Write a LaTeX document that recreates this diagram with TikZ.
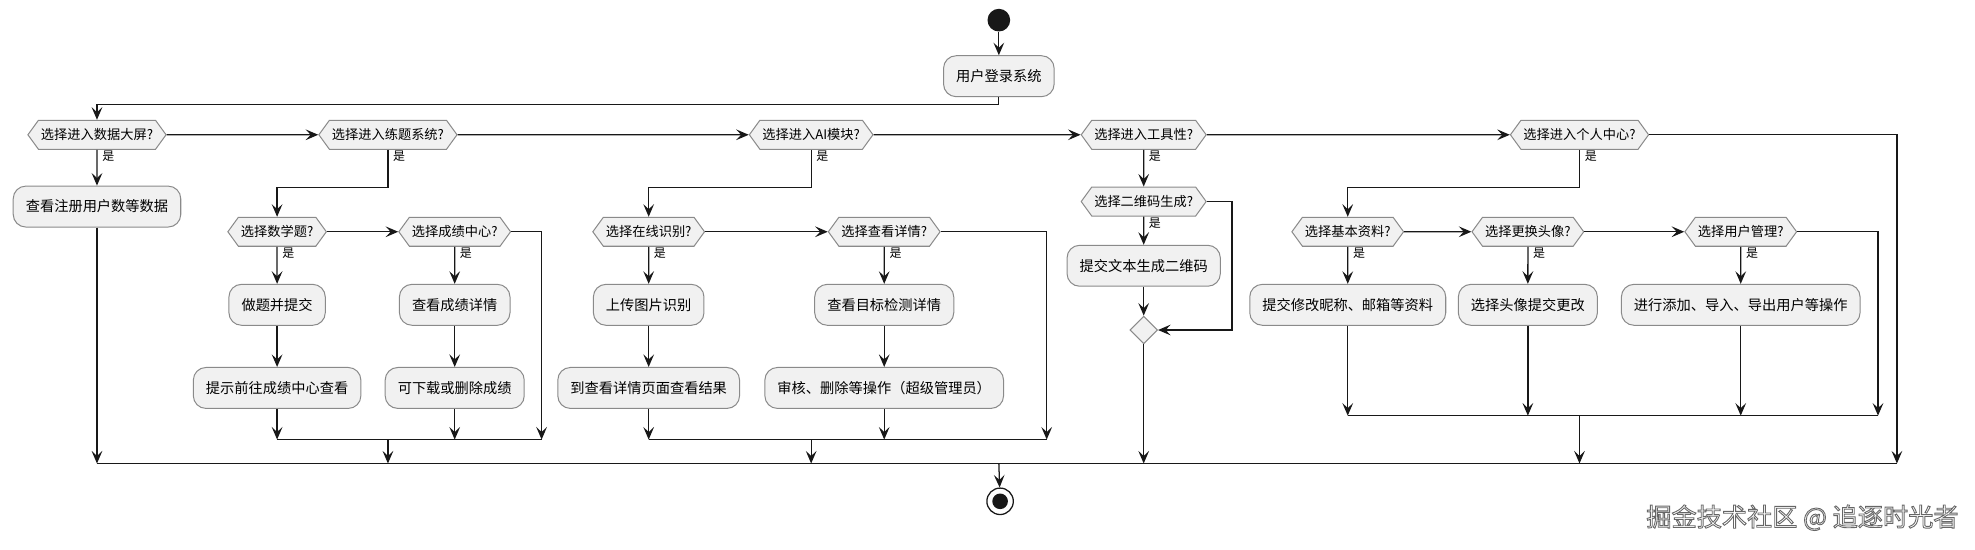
\documentclass[tikz,border=0pt]{standalone}
\usepackage{fontspec}
\setmainfont{Noto Sans CJK SC}
\usetikzlibrary{shapes.symbols,shapes.geometric,arrows.meta}
\definecolor{boxfill}{HTML}{F1F1F1}
\definecolor{boxline}{HTML}{8A8A8A}
\definecolor{linecol}{HTML}{181818}
\tikzset{
  act/.style={shape=rectangle, rounded corners=10pt, fill=boxfill, draw=boxline, line width=0.8pt,
    minimum height=32.5pt, inner xsep=10pt, inner ysep=0pt, font=\fontsize{11.3}{13}\selectfont},
  dec/.style={shape=signal, signal to=east and west, signal pointer angle=108, fill=boxfill, draw=boxline,
    line width=0.8pt, minimum height=23pt, inner xsep=2pt, inner ysep=0pt, font=\fontsize{10.5}{12}\selectfont},
  yes/.style={anchor=west, inner sep=0pt, font=\fontsize{9.5}{11}\selectfont},
  flow/.style={draw=linecol, line width=1pt, -{Stealth[length=10pt,width=8.5pt,inset=4pt]}},
  plain/.style={draw=linecol, line width=1pt},
}
\begin{document}
\begin{tikzpicture}[x=1pt,y=-1pt]
\useasboundingbox (0,0) rectangle (1568,435.9);
% start / end
\node[circle, fill=linecol, minimum size=18pt, inner sep=0pt] (start) at (793,16) {};
\node[act] (login) at (793,60.5) {用户登录系统};
% top row of decisions
\node[dec] (d1) at (77,107) {选择进入数据大屏?};
\node[dec] (d2) at (308,107) {选择进入练题系统?};
\node[dec] (d3) at (644,107) {选择进入AI模块?};
\node[dec] (d4) at (908,107) {选择进入工具性?};
\node[dec] (d5) at (1254,107) {选择进入个人中心?};
% branch 1
\node[act] (a1) at (77,164) {查看注册用户数等数据};
% branch 2
\node[dec] (d2a) at (220,184) {选择数学题?};
\node[dec] (d2b) at (361,184) {选择成绩中心?};
\node[act] (b21) at (220,242) {做题并提交};
\node[act] (b22) at (220,308) {提示前往成绩中心查看};
\node[act] (b23) at (361,242) {查看成绩详情};
\node[act] (b24) at (361,308) {可下载或删除成绩};
% branch 3
\node[dec] (d3a) at (515,184) {选择在线识别?};
\node[dec] (d3b) at (702,184) {选择查看详情?};
\node[act] (b31) at (515,242) {上传图片识别};
\node[act] (b32) at (515,308) {到查看详情页面查看结果};
\node[act] (b33) at (702,242) {查看目标检测详情};
\node[act] (b34) at (702,308) {审核、删除等操作（超级管理员）};
% branch 4
\node[dec] (d4a) at (908,160) {选择二维码生成?};
\node[act] (b41) at (908,211) {提交文本生成二维码};
\node[shape=diamond, fill=boxfill, draw=boxline, line width=0.8pt, minimum width=22pt, minimum height=22pt, inner sep=0pt] (m4) at (908,262) {};
% branch 5
\node[dec] (d5a) at (1070,184) {选择基本资料?};
\node[dec] (d5b) at (1213,184) {选择更换头像?};
\node[dec] (d5c) at (1382,184) {选择用户管理?};
\node[act] (b51) at (1070,242) {提交修改昵称、邮箱等资料};
\node[act] (b52) at (1213,242) {选择头像提交更改};
\node[act] (b53) at (1382,242) {进行添加、导入、导出用户等操作};
% end
\node[circle, draw=linecol, line width=1pt, fill=white, minimum size=21pt, inner sep=0pt] (end) at (794,398) {};
\fill[linecol] (end.center) circle (6.2pt);
% merge coordinates
\coordinate (m2l) at (220,349); \coordinate (m2r) at (430,349); \coordinate (m2d) at (308,349);
\coordinate (m3l) at (515,349); \coordinate (m3r) at (831,349); \coordinate (m3d) at (644,349);
\coordinate (m5l) at (1070,330); \coordinate (m5r) at (1491,330); \coordinate (m5d) at (1254,330);
\coordinate (ol) at (77,368); \coordinate (or) at (1506,368); \coordinate (od) at (793,368);
% "yes" labels
\node[yes] (y1) at (81,124) {是};
\node[yes] (y2) at (312,124) {是};
\node[yes] (y3) at (648,124) {是};
\node[yes] (y4) at (912,124) {是};
\node[yes] (y5) at (1258,124) {是};
\node[yes] (y2a) at (224,201) {是};
\node[yes] (y2b) at (365,201) {是};
\node[yes] (y3a) at (519,201) {是};
\node[yes] (y3b) at (706,201) {是};
\node[yes] (y4a) at (912,177) {是};
\node[yes] (y5a) at (1074,201) {是};
\node[yes] (y5b) at (1217,201) {是};
\node[yes] (y5c) at (1386,201) {是};
% connectors: top
\draw[flow] (start) -- (login);
\draw[flow] (login.south) -- ++(0,6) -| (d1.north);
\draw[flow] (d1) -- (d2);
\draw[flow] (d2) -- (d3);
\draw[flow] (d3) -- (d4);
\draw[flow] (d4) -- (d5);
\draw[flow] (d5.east) -| (or);
% branch 1
\draw[flow] (d1) -- (a1);
\draw[flow] (a1) -- (ol);
% branch 2
\draw[flow] (d2.south) -- ++(0,30) -| (d2a.north);
\draw[flow] (d2a) -- (d2b);
\draw[flow] (d2b.east) -| (m2r);
\draw[flow] (d2a) -- (b21);
\draw[flow] (b21) -- (b22);
\draw[flow] (b22) -- (m2l);
\draw[flow] (d2b) -- (b23);
\draw[flow] (b23) -- (b24);
\draw[flow] (b24) -- (b24 |- m2l);
\draw[plain] (m2l) -- (m2r);
\draw[flow] (m2d) -- (m2d |- ol);
% branch 3
\draw[flow] (d3.south) -- ++(0,30) -| (d3a.north);
\draw[flow] (d3a) -- (d3b);
\draw[flow] (d3b.east) -| (m3r);
\draw[flow] (d3a) -- (b31);
\draw[flow] (b31) -- (b32);
\draw[flow] (b32) -- (m3l);
\draw[flow] (d3b) -- (b33);
\draw[flow] (b33) -- (b34);
\draw[flow] (b34) -- (b34 |- m3l);
\draw[plain] (m3l) -- (m3r);
\draw[flow] (m3d) -- (m3d |- ol);
% branch 4
\draw[flow] (d4) -- (d4a);
\draw[flow] (d4a) -- (b41);
\draw[flow] (b41) -- (m4);
\draw[flow] (d4a.east) -- ++(20,0) |- (m4.east);
\draw[flow] (m4) -- (m4 |- ol);
% branch 5
\draw[flow] (d5.south) -- ++(0,30) -| (d5a.north);
\draw[flow] (d5a) -- (d5b);
\draw[flow] (d5b) -- (d5c);
\draw[flow] (d5c.east) -| (m5r);
\draw[flow] (d5a) -- (b51);
\draw[flow] (d5b) -- (b52);
\draw[flow] (d5c) -- (b53);
\draw[flow] (b51) -- (m5l);
\draw[flow] (b52) -- (b52 |- m5l);
\draw[flow] (b53) -- (b53 |- m5l);
\draw[plain] (m5l) -- (m5r);
\draw[flow] (m5d) -- (m5d |- ol);
% bottom merge and end
\draw[plain] (ol) -- (or);
\draw[flow] (od) -- (end);
% watermark
\node[inner sep=0pt, font=\fontsize{20}{23}\selectfont] (wm) at (1431,411)
  {{\color{white}\special{pdf:literal direct 0.4 G 0.7 w 2 Tr}掘金技术社区 @ 追逐时光者\special{pdf:literal direct 0 Tr}}};
\end{tikzpicture}
\end{document}
